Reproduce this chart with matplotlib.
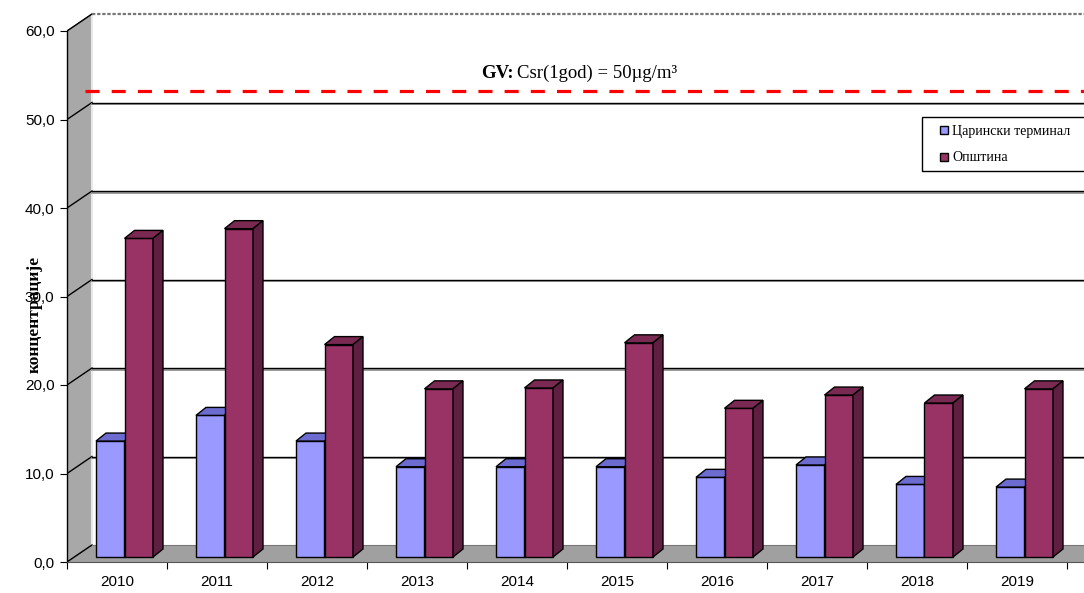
"""
Annual mean concentrations, 3D-style column chart.
"""

import matplotlib
matplotlib.use("Agg")
import matplotlib.pyplot as plt
from matplotlib.patches import Polygon, Rectangle
from matplotlib.lines import Line2D
from matplotlib.ticker import FuncFormatter

# ------------------------------------------------------------
# Data
# ------------------------------------------------------------

years = ["2010", "2011", "2012", "2013", "2014",
         "2015", "2016", "2017", "2018", "2019"]

carinski = [13.1, 16.0, 13.1, 10.2, 10.2, 10.2, 9.0, 10.4, 8.2, 7.9]
opstina = [36.0, 37.1, 24.0, 19.0, 19.1, 24.2, 16.8, 18.3, 17.4, 19.0]

series_names = ["Царински терминал", "Општина"]
limit_value = 53.2
y_ticks = [0, 10, 20, 30, 40, 50, 60]

# ------------------------------------------------------------
# Geometry (pixels -> data)
# ------------------------------------------------------------

W, H = 1084, 593
PX_Y = 8.85          # pixels per unit of concentration
PX_X = 100.0         # pixels per category

wall_dx = 25 / PX_X  # depth offset of the back wall
wall_dy = 17 / PX_Y

bar_dx = 10 / PX_X   # depth of one column
bar_dy = 8 / PX_Y
bar_base = 5 / PX_Y
bar_w = 0.285
bar_left = 0.29

fig = plt.figure(figsize=(W / 100, H / 100), dpi=100)
ax = fig.add_axes([67 / W, 31 / H, 1017 / W, 562 / H])
ax.set_xlim(0, 1017 / PX_X)
ax.set_ylim(0, 562 / PX_Y)

n = len(years)
right = n + 1.0

# ------------------------------------------------------------
# Walls and floor
# ------------------------------------------------------------

left_wall = Polygon([(0, 0), (0, 60), (wall_dx, 60 + wall_dy), (wall_dx, wall_dy)],
                    closed=True, facecolor="#a8a8a8", edgecolor="#555555",
                    lw=0.8, zorder=1)
ax.add_patch(left_wall)

floor = Polygon([(0, 0), (right, 0), (right + wall_dx, wall_dy), (wall_dx, wall_dy)],
                closed=True, facecolor="#a0a0a0", edgecolor="none", zorder=1)
ax.add_patch(floor)

ax.plot([wall_dx, wall_dx], [wall_dy, 60 + wall_dy], color="#e8e8e8", lw=1.5, zorder=2)

for v in y_ticks:
    ax.plot([0, wall_dx], [v, v + wall_dy], color="black", lw=1.0, zorder=2)
    if 0 < v < 60:
        ax.plot([wall_dx, right + 1], [v + wall_dy - 0.2] * 2,
                color="#9a9a9a", lw=1.4, zorder=2)
        ax.plot([wall_dx, right + 1], [v + wall_dy] * 2,
                color="black", lw=1.0, zorder=2)

ax.plot([wall_dx, right + 1], [60 + wall_dy] * 2, color="#777777",
        lw=1.6, ls=(0, (1.5, 0.8)), zorder=2)
ax.plot([wall_dx, right + 1], [wall_dy] * 2, color="#777777", lw=0.8, zorder=2)

# ------------------------------------------------------------
# Columns
# ------------------------------------------------------------

def column(x0, value, front, top, side):
    x1 = x0 + bar_w
    y0 = bar_base
    y1 = bar_base + value
    ax.bar(x0, value, width=bar_w, bottom=y0, align="edge",
           color=front, edgecolor="black", lw=1.0, zorder=4)
    ax.add_patch(Polygon([(x0, y1), (x1, y1), (x1 + bar_dx, y1 + bar_dy),
                          (x0 + bar_dx, y1 + bar_dy)], closed=True,
                         facecolor=top, edgecolor="black", lw=1.0, zorder=4))
    ax.add_patch(Polygon([(x1, y0), (x1, y1), (x1 + bar_dx, y1 + bar_dy),
                          (x1 + bar_dx, y0 + bar_dy)], closed=True,
                         facecolor=side, edgecolor="black", lw=1.0, zorder=4))

for i in range(n):
    column(i + bar_left, carinski[i], "#9999ff", "#6c6cd0", "#4d4d99")
    column(i + bar_left + bar_w, opstina[i], "#993366", "#7a2952", "#5e1f40")

# ------------------------------------------------------------
# Limit line and label
# ------------------------------------------------------------

ax.plot([0.18, right + 1], [limit_value, limit_value], color="#ff0000",
        lw=2.3, dashes=(4.4, 3.8), zorder=5)

ax.text(4.47, 55.2, "GV:", family="Liberation Serif", fontweight="bold",
        fontsize=13.5, ha="right", va="center", zorder=6)
ax.text(4.50, 55.2, "Csr(1god) = 50µg/m³", family="Liberation Serif",
        fontsize=13.5, ha="left", va="center", zorder=6)

# ------------------------------------------------------------
# Axes
# ------------------------------------------------------------

for s in ["top", "right"]:
    ax.spines[s].set_visible(False)

ax.spines["left"].set_bounds(0, 60)
ax.spines["left"].set_linewidth(1.0)
ax.spines["bottom"].set_bounds(0, right)
ax.spines["bottom"].set_linestyle((0, (1.5, 1.0)))
ax.spines["bottom"].set_color("#555555")

ax.set_yticks(y_ticks)
ax.yaxis.set_major_formatter(FuncFormatter(lambda v, p: f"{v:.1f}".replace(".", ",")))
ax.set_xticks(range(n + 1))
ax.set_xticklabels([])
ax.set_xticks([i + 0.5 for i in range(n)], minor=True)
ax.set_xticklabels(years, minor=True)
ax.tick_params(axis="x", which="minor", length=0, pad=9, labelsize=11)
ax.tick_params(axis="x", which="major", length=5, direction="out")
ax.tick_params(axis="y", length=5, direction="out", labelsize=11, pad=4)
for lab in ax.get_yticklabels() + ax.get_xticklabels(minor=True):
    lab.set_family("Liberation Sans")

ax.set_ylabel("концентрације", family="Liberation Serif", fontweight="bold",
              fontsize=12.5)
ax.yaxis.set_label_coords(-24 / 1017, (562 - 314) / 562)

# ------------------------------------------------------------
# Legend (box runs past the right edge, as in the original)
# ------------------------------------------------------------

ax.add_patch(Rectangle((922 / W, 1 - 171 / H), 180 / W, 54 / H,
                       transform=fig.transFigure, facecolor="white",
                       edgecolor="black", lw=1.0, zorder=6, clip_on=False))

handles = [
    Line2D([], [], ls="none", marker="s", markersize=6, markerfacecolor="#9999ff",
           markeredgecolor="black", markeredgewidth=1.0),
    Line2D([], [], ls="none", marker="s", markersize=6, markerfacecolor="#993366",
           markeredgecolor="black", markeredgewidth=1.0),
]
leg = ax.legend(handles, series_names, loc="upper left",
                bbox_to_anchor=(936 / W, 1 - 121 / H), bbox_transform=fig.transFigure,
                borderaxespad=0, frameon=False, handlelength=0.6,
                handletextpad=0.25, labelspacing=0.95, borderpad=0.3,
                prop={"family": "Liberation Serif", "size": 10})
leg.set_zorder(7)

fig.savefig("out.png", dpi=100)
